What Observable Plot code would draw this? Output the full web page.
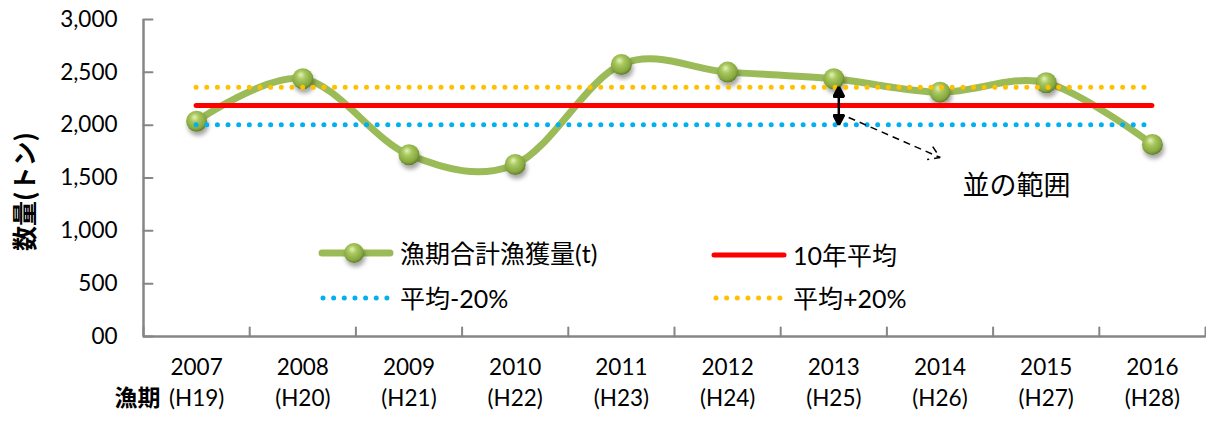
<!DOCTYPE html>
<html><head><meta charset="utf-8">
<script src="https://cdn.jsdelivr.net/npm/d3@7"></script>
<script src="https://cdn.jsdelivr.net/npm/@observablehq/plot@0.6"></script>
<style>
body{margin:0;background:#fff;}
#wrap{position:relative;width:1206px;height:421px;font-family:Lato,"Noto Sans CJK JP",sans-serif;overflow:hidden;}
.leg{position:absolute;display:flex;align-items:center;font-size:25px;color:#000;white-space:nowrap;line-height:1;}
.leg svg{margin-right:6px;overflow:visible;}
</style></head><body><div id="wrap"></div>
<script>
// ---- data ----
const years = [2007, 2008, 2009, 2010, 2011, 2012, 2013, 2014, 2015, 2016];
const heisei = ["(H19)", "(H20)", "(H21)", "(H22)", "(H23)", "(H24)", "(H25)", "(H26)", "(H27)", "(H28)"];
const catchTons = [2037, 2439, 1720, 1628, 2574, 2502, 2439, 2312, 2401, 1817];
const avg10 = 2186;
const avgMinus = 2005;
const avgPlus = 2360;
const yTicks = [0, 500, 1000, 1500, 2000, 2500, 3000];
const legendLabels = ["漁期合計漁獲量(t)", "10年平均", "平均-20%", "平均+20%"];
const yTitle = "数量(トン)";
const xTitle = "漁期";
const noteText = "並の範囲";
// annotation anchor points (data units)
const noteArrowFrom = {year: 2013.14, value: 2073};
const noteArrowTo = {year: 2014.0, value: 1694};
const noteLabelAt = {year: 2014.72, value: 1420};

// ---- styles ----
const GREEN = "#9BBB59", RED = "#FF0000", BLUE = "#00B0F0", ORANGE = "#FFC000", AXIS = "#868686";
const xDomain = [years[0] - 0.5, years[years.length - 1] + 0.5];

function triMarker(color) {
  return d3.create("svg:marker")
    .attr("viewBox", "-5 -5 10 10").attr("markerWidth", 4.8).attr("markerHeight", 4.8)
    .attr("refX", 4).attr("orient", "auto-start-reverse")
    .call(m => m.append("path").attr("d", "M-4,-4.2L4,0L-4,4.2Z").attr("fill", color))
    .node();
}
function chevronMarker(color) {
  return d3.create("svg:marker")
    .attr("viewBox", "-12 -12 24 24").attr("markerWidth", 24).attr("markerHeight", 24)
    .attr("markerUnits", "userSpaceOnUse")
    .attr("refX", 0).attr("orient", "auto")
    .call(m => m.append("path").attr("d", "M-11,-7L0,0L-11,7").attr("fill", "none")
      .attr("stroke", color).attr("stroke-width", 1.5).attr("stroke-linejoin", "miter"))
    .node();
}
const tickShapeUp = {draw(ctx, l) { ctx.moveTo(0, 0); ctx.lineTo(0, -l); }};
const tickShapeRight = {draw(ctx, l) { ctx.moveTo(0, 0); ctx.lineTo(l, 0); }};

const rows = years.map((y, i) => ({year: y, value: catchTons[i], h: heisei[i]}));
const boundaries = d3.range(years.length + 1).map(i => xDomain[0] + i);
const fmt = d => d === 0 ? "00" : d3.format(",")(d);

const chart = Plot.plot({
  width: 1206, height: 421,
  marginTop: 19, marginBottom: 85, marginLeft: 143, marginRight: 1,
  style: {fontFamily: 'Lato, "Noto Sans CJK JP", sans-serif', fontSize: "23px", color: "#000", background: "transparent"},
  x: {domain: xDomain, axis: null},
  y: {domain: [0, 3000], axis: null},
  marks: [
    // axes lines
    Plot.ruleY([0], {stroke: AXIS, strokeWidth: 2.5}),
    Plot.ruleX([xDomain[0]], {stroke: AXIS, strokeWidth: 2.5}),
    // ticks pointing inward
    Plot.vector(boundaries, {x: d => d, y: 0, length: 9, anchor: "start", shape: tickShapeUp, stroke: AXIS, strokeWidth: 2}),
    Plot.vector(yTicks, {y: d => d, frameAnchor: "left", length: 9, anchor: "start", shape: tickShapeRight, stroke: AXIS, strokeWidth: 2}),
    // y tick labels
    Plot.text(yTicks, {y: d => d, text: fmt, frameAnchor: "left", dx: -26, textAnchor: "end", fontSize: 22.5}),
    // x tick labels
    Plot.text(rows, {x: "year", text: d => String(d.year), frameAnchor: "bottom", dy: 38, fontSize: 22.5}),
    Plot.text(rows, {x: "year", text: "h", frameAnchor: "bottom", dy: 69, fontSize: 22.5}),
    // axis titles
    Plot.text([xTitle], {frameAnchor: "bottom-left", dx: 17, dy: 69, textAnchor: "end", fontWeight: "bold", fontSize: 23, fontFamily: '"Noto Sans CJK JP", sans-serif'}),
    Plot.text([yTitle], {frameAnchor: "left", dx: -118, dy: 73, rotate: -90, fontWeight: "bold", fontSize: 25, fontFamily: '"Noto Sans CJK JP", sans-serif'}),
    // catch series
    Plot.line(rows, {x: "year", y: "value", curve: "cardinal", tension: 0, stroke: GREEN, strokeWidth: 7, strokeLinecap: "round"}),
    Plot.dot(rows, {x: "year", y: "value", r: 10.5, fill: "url(#ball)", stroke: "none"}),
    // reference lines
    Plot.ruleY([avg10], {x1: years[0], x2: years[years.length - 1], stroke: RED, strokeWidth: 5, strokeLinecap: "round"}),
    Plot.ruleY([avgMinus], {x1: years[0], x2: years[years.length - 1], stroke: BLUE, strokeWidth: 5, strokeDasharray: "0 10.65", strokeLinecap: "round"}),
    Plot.ruleY([avgPlus], {x1: years[0], x2: years[years.length - 1], stroke: ORANGE, strokeWidth: 5, strokeDasharray: "0 10.65", strokeLinecap: "round"}),
    // annotation: range arrow
    Plot.link([{year: 2013, lo: avgMinus, hi: avgPlus}], {x1: "year", x2: "year", y1: "hi", y2: "lo", dx: 5, stroke: "#000", strokeWidth: 2.5, markerStart: triMarker, markerEnd: triMarker}),
    Plot.link([0], {x1: () => noteArrowFrom.year, y1: () => noteArrowFrom.value, x2: () => noteArrowTo.year, y2: () => noteArrowTo.value,
      stroke: "#000", strokeWidth: 1.5, strokeDasharray: "7 5", markerEnd: chevronMarker}),
    Plot.text([noteText], {x: () => noteLabelAt.year, y: () => noteLabelAt.value, fontSize: 27, fontFamily: '"Noto Sans CJK JP", sans-serif'})
  ]
});

// gradient + shadow defs
const svg = d3.select(chart);
const defs = svg.insert("defs", ":first-child");
const g = defs.append("radialGradient").attr("id", "ball").attr("cx", "45%").attr("cy", "40%").attr("r", "60%").attr("fx", "40%").attr("fy", "30%");
g.append("stop").attr("offset", "0%").attr("stop-color", "#E4F2B8");
g.append("stop").attr("offset", "35%").attr("stop-color", "#A9C85F");
g.append("stop").attr("offset", "80%").attr("stop-color", "#86A83F");
g.append("stop").attr("offset", "100%").attr("stop-color", "#5E7A28");
const f = defs.append("filter").attr("id", "shadow").attr("x", "-50%").attr("y", "-50%").attr("width", "200%").attr("height", "220%");
f.append("feDropShadow").attr("dx", 1.5).attr("dy", 4).attr("stdDeviation", 2.2).attr("flood-color", "#000").attr("flood-opacity", 0.35);
svg.selectAll("circle").filter(function() { return this.getAttribute("fill") === "url(#ball)" || (this.parentNode && this.parentNode.getAttribute("fill") === "url(#ball)"); })
  .attr("filter", "url(#shadow)");

const wrap = document.getElementById("wrap");
wrap.appendChild(chart);

// ---- legend (overlay inside plot area) ----
const legendItems = [
  {label: legendLabels[0], kind: "lineball", color: GREEN, left: 318, top: 253},
  {label: legendLabels[1], kind: "line", color: RED, left: 711, top: 255},
  {label: legendLabels[2], kind: "dots", color: BLUE, left: 318, top: 298},
  {label: legendLabels[3], kind: "dots", color: ORANGE, left: 711, top: 298}
];
for (const it of legendItems) {
  const div = document.createElement("div");
  div.className = "leg";
  div.style.left = it.left + "px";
  div.style.top = (it.top - 15) + "px";
  div.style.height = "30px";
  const sw = d3.create("svg").attr("width", 76).attr("height", 30);
  if (it.kind === "lineball") {
    sw.append("line").attr("x1", 4).attr("x2", 72).attr("y1", 15).attr("y2", 15).attr("stroke", it.color).attr("stroke-width", 7).attr("stroke-linecap", "round");
    sw.append("circle").attr("cx", 36).attr("cy", 15).attr("r", 10).attr("fill", "url(#ball)").attr("filter", "url(#shadow)");
  } else if (it.kind === "line") {
    sw.append("line").attr("x1", 3).attr("x2", 73).attr("y1", 15).attr("y2", 15).attr("stroke", it.color).attr("stroke-width", 5).attr("stroke-linecap", "round");
  } else {
    sw.append("line").attr("x1", 5).attr("x2", 70).attr("y1", 15).attr("y2", 15).attr("stroke", it.color).attr("stroke-width", 5).attr("stroke-linecap", "round").attr("stroke-dasharray", "0 10.65");
  }
  div.appendChild(sw.node());
  const span = document.createElement("span");
  span.textContent = it.label;
  div.appendChild(span);
  wrap.appendChild(div);
}
</script></body></html>
